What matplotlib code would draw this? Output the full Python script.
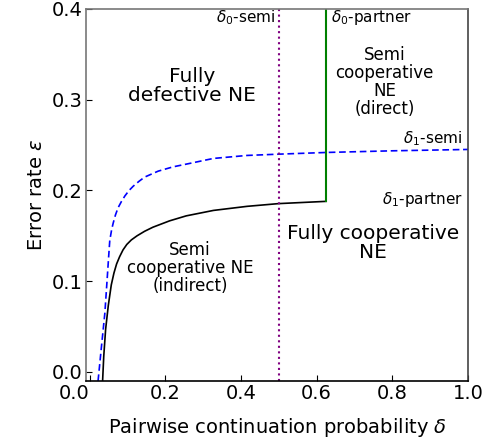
import matplotlib
matplotlib.use("Agg")
import matplotlib.pyplot as plt

# Data
delta_partner1 = [0.034, 0.037, 0.042, 0.049, 0.057, 0.064, 0.071, 0.079, 0.088, 0.098,
                  0.110, 0.125, 0.145, 0.167, 0.211, 0.255, 0.327, 0.416, 0.499, 0.625]
eps_partner1 = [-0.010, 0.017, 0.047, 0.073, 0.096, 0.109, 0.119, 0.127, 0.1345, 0.1405,
                0.1455, 0.150, 0.155, 0.1595, 0.1665, 0.172, 0.178, 0.1825, 0.1855, 0.188]

delta_semi1 = [0.022, 0.031, 0.040, 0.046, 0.050, 0.053, 0.058, 0.062, 0.068, 0.075,
               0.084, 0.093, 0.104, 0.115, 0.130, 0.145, 0.181, 0.220, 0.255, 0.327,
               0.416, 0.499, 0.627, 0.800, 1.000]
eps_semi1 = [-0.010, 0.028, 0.065, 0.102, 0.127, 0.145, 0.157, 0.164, 0.173, 0.181,
             0.188, 0.194, 0.200, 0.2047, 0.210, 0.2147, 0.2213, 0.226, 0.229, 0.2353,
             0.2386, 0.240, 0.2419, 0.2437, 0.2452]

delta0_semi = 0.5
delta0_partner = 0.625
partner_line_eps = [0.188, 0.4]

xticks = [0.0, 0.2, 0.4, 0.6, 0.8, 1.0]
yticks = [0.0, 0.1, 0.2, 0.3, 0.4]

fig = plt.figure(figsize=(4.94, 4.45), dpi=100)
ax = fig.add_axes([0.174, 0.1438, 0.7733, 0.836])

ax.plot(delta_partner1, eps_partner1, color="black", lw=1.2)
ax.plot(delta_semi1, eps_semi1, color="blue", lw=1.2, ls="--", dashes=(4, 2.2))
ax.axvline(delta0_semi, color="purple", lw=1.5, ls=":")
ax.plot([delta0_partner, delta0_partner], partner_line_eps, color="green", lw=1.5)

ax.set_xlim(-0.01, 1.0)
ax.set_ylim(-0.01, 0.4)
ax.set_xticks(xticks)
ax.set_yticks(yticks)
ax.set_xticklabels([f"{v:.1f}" for v in xticks])
ax.set_yticklabels([f"{v:.1f}" for v in yticks])
ax.get_xticklabels()[0].set_horizontalalignment("right")
ax.tick_params(direction="in", labelsize=14, length=4, pad=2.5)

ax.spines["left"].set_color("#777777")
ax.spines["top"].set_color("#777777")
ax.spines["right"].set_color("#444444")
ax.spines["bottom"].set_color("black")
for s in ax.spines.values():
    s.set_linewidth(1.2)

ax.set_xlabel(r"Pairwise continuation probability $\delta$", fontsize=14, labelpad=9)
ax.set_ylabel(r"Error rate $\varepsilon$", fontsize=14, labelpad=4)

# Region labels
ax.text(0.27, 0.315, "Fully\ndefective NE", fontsize=14.5, ha="center", va="center",
        linespacing=1.0)
ax.text(0.78, 0.319, "Semi\ncooperative\nNE\n(direct)", fontsize=12, ha="center",
        va="center", linespacing=1.0)
ax.text(0.265, 0.115, "Semi\ncooperative NE\n(indirect)", fontsize=12, ha="center",
        va="center", linespacing=1.0)
ax.text(0.75, 0.142, "Fully cooperative\nNE", fontsize=14.5, ha="center", va="center",
        linespacing=1.0)

# Boundary labels
ax.text(0.49, 0.391, r"$\delta_0$-semi", fontsize=11, ha="right", va="center")
ax.text(0.637, 0.391, r"$\delta_0$-partner", fontsize=11, ha="left", va="center")
ax.text(0.985, 0.257, r"$\delta_1$-semi", fontsize=11, ha="right", va="center")
ax.text(0.985, 0.190, r"$\delta_1$-partner", fontsize=11, ha="right", va="center")

fig.savefig("out.png", dpi=100)
